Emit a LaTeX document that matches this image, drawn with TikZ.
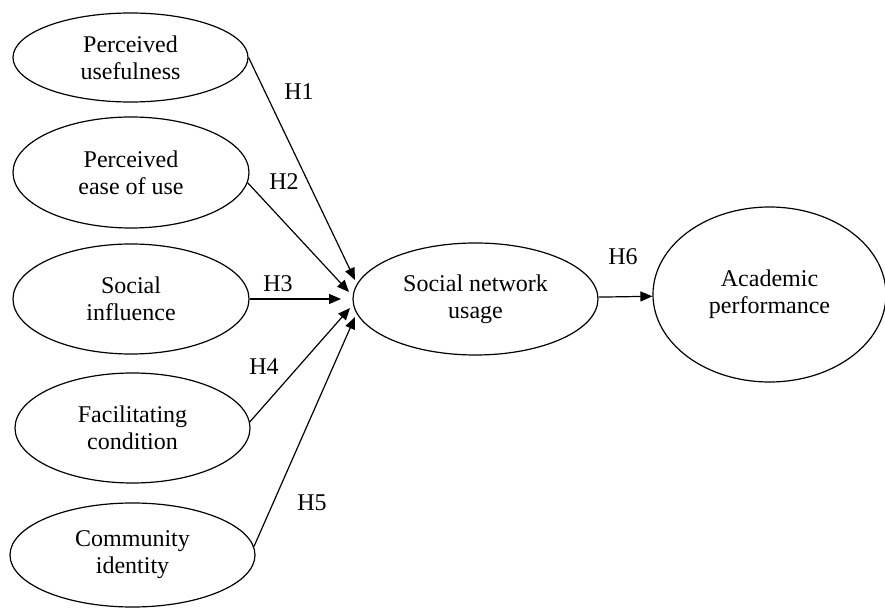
\documentclass[tikz,border=0pt]{standalone}
\usepackage{fontspec}
\setmainfont{Liberation Serif}
\usetikzlibrary{shapes.geometric,arrows.meta}
\begin{document}
\begin{tikzpicture}[x=0.5pt,y=-0.5pt,line width=0.6pt,>={Triangle[length=6pt,width=5pt]}]
\tikzstyle{every node}=[draw,ellipse,inner sep=0pt,align=center,font=\fontsize{12}{13.5}\selectfont]
\useasboundingbox (0,0) rectangle (885,609);
\node[minimum width=117.5pt,minimum height=44.5pt](v1) at (130.5,57.5) {Perceived\\usefulness};
\node[minimum width=118pt,minimum height=55.5pt](v2) at (131,172.5) {Perceived\\ease of use};
\node[minimum width=118pt,minimum height=55pt](v3) at (131,299) {Social\\influence};
\node[minimum width=117.5pt,minimum height=55pt](v4) at (132.5,428) {Facilitating\\condition};
\node[minimum width=122.5pt,minimum height=52pt](v5) at (132.5,555) {Community\\identity};
\node[minimum width=122.5pt,minimum height=56pt](v6) at (475.5,299) {Social network\\usage};
\node[minimum width=116.5pt,minimum height=87.5pt](v7) at (769.5,294.5) {Academic\\performance};
\coordinate (t1) at (355,280);
\coordinate (t2) at (349,292);
\coordinate (t3) at (341,299);
\coordinate (t4) at (350,308);
\coordinate (t5) at (355,317);
\draw[->] (v1.east) -- (t1);
\draw[->] (v2.-5) -- (t2);
\draw[->] (v3.east) -- (t3);
\draw[->] (v4.3) -- (t4);
\draw[->] (v5.4) -- (t5);
\draw[->] (v6) -- (v7);
\node[draw=none,rectangle](h1) at (299,92) {H1};
\node[draw=none,rectangle](h2) at (284,182) {H2};
\node[draw=none,rectangle](h3) at (278,284) {H3};
\node[draw=none,rectangle](h4) at (264,367) {H4};
\node[draw=none,rectangle](h5) at (312,503) {H5};
\node[draw=none,rectangle](h6) at (623,257) {H6};
\end{tikzpicture}
\end{document}
